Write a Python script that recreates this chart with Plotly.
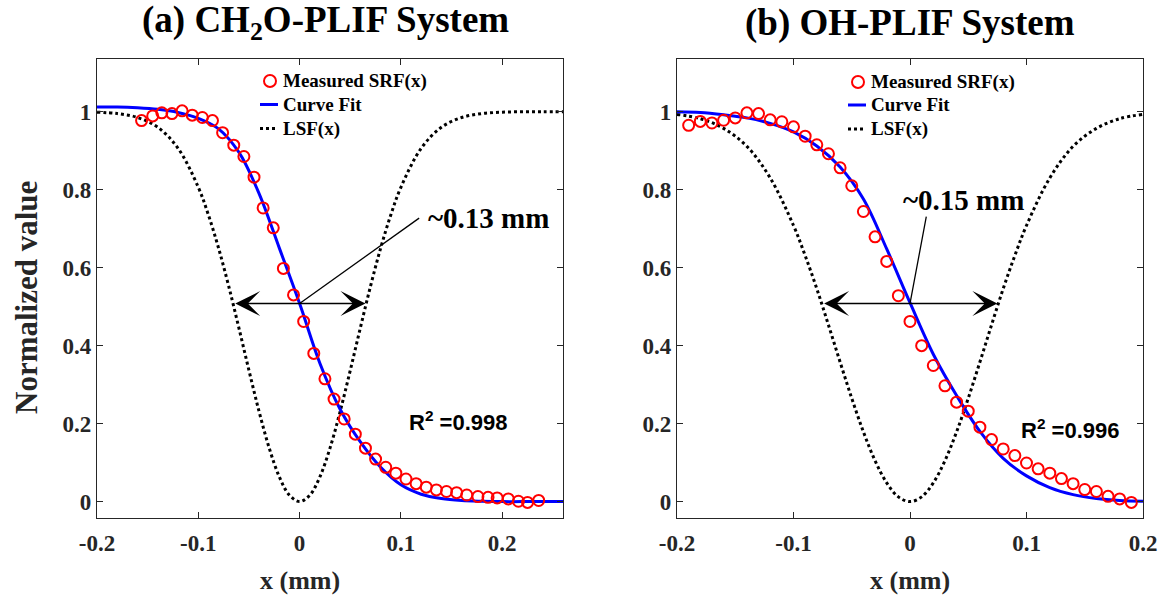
import plotly.graph_objects as go

# ---------------- (a) CH2O-PLIF system ----------------
ch2o_x = [-0.156, -0.145, -0.136, -0.126, -0.116, -0.106, -0.096, -0.086, -0.076, -0.065,
          -0.055, -0.045, -0.036, -0.026, -0.016, -0.006, 0.004, 0.014, 0.025, 0.034,
          0.044, 0.055, 0.065, 0.075, 0.085, 0.095, 0.105, 0.115, 0.125, 0.135,
          0.145, 0.155, 0.165, 0.176, 0.186, 0.195, 0.206, 0.216, 0.225, 0.236]
ch2o_srf = [0.977, 0.989, 0.997, 0.995, 1.002, 0.991, 0.985, 0.977, 0.946, 0.914,
            0.885, 0.832, 0.753, 0.702, 0.598, 0.530, 0.462, 0.380, 0.315, 0.263,
            0.212, 0.173, 0.137, 0.109, 0.088, 0.073, 0.058, 0.046, 0.037, 0.030,
            0.026, 0.023, 0.017, 0.013, 0.011, 0.0095, 0.007, 0.001, -0.002, 0.003]

ch2o_fit_x = [-0.20, -0.18, -0.16, -0.14, -0.12, -0.10, -0.08, -0.06, -0.04, -0.02,
              0.00, 0.02, 0.04, 0.06, 0.08, 0.10, 0.12, 0.14, 0.16, 0.18,
              0.20, 0.22, 0.24, 0.26]
ch2o_fit = [1.012, 1.012, 1.010, 1.006, 0.998, 0.983, 0.956, 0.896, 0.790, 0.650,
            0.508, 0.355, 0.237, 0.153, 0.088, 0.043, 0.019, 0.008, 0.003, 0.001,
            0.000, 0.000, 0.000, 0.000]

ch2o_lsf_x = [-0.20, -0.18, -0.16, -0.14, -0.12, -0.10, -0.09, -0.08, -0.07, -0.06,
              -0.05, -0.04, -0.03, -0.02, -0.01, 0.00, 0.01, 0.02, 0.03, 0.04,
              0.05, 0.06, 0.07, 0.08, 0.09, 0.10, 0.12, 0.14, 0.16, 0.18,
              0.20, 0.22, 0.24, 0.26]
ch2o_lsf = [0.9986, 0.995, 0.985, 0.960, 0.906, 0.806, 0.735, 0.650, 0.5525, 0.446,
            0.3365, 0.231, 0.1373, 0.0635, 0.0163, 0.0, 0.0163, 0.0635, 0.1373, 0.231,
            0.3365, 0.446, 0.5525, 0.650, 0.735, 0.806, 0.906, 0.960, 0.985, 0.995,
            0.9986, 0.9997, 1.0, 1.0]

ch2o_fwhm = 0.13
ch2o_r2 = 0.998

# ---------------- (b) OH-PLIF system ----------------
oh_x = [-0.19, -0.18, -0.17, -0.16, -0.15, -0.14, -0.13, -0.12, -0.11, -0.10,
        -0.09, -0.08, -0.07, -0.06, -0.05, -0.04, -0.03, -0.02, -0.01, 0.00,
        0.01, 0.02, 0.03, 0.04, 0.05, 0.06, 0.07, 0.08, 0.09, 0.10,
        0.11, 0.12, 0.13, 0.14, 0.15, 0.16, 0.17, 0.18, 0.19]
oh_srf = [0.965, 0.975, 0.971, 0.978, 0.984, 0.997, 0.995, 0.979, 0.974, 0.961,
          0.937, 0.915, 0.892, 0.856, 0.810, 0.744, 0.679, 0.616, 0.528, 0.462,
          0.400, 0.349, 0.297, 0.255, 0.232, 0.191, 0.159, 0.135, 0.118, 0.099,
          0.084, 0.073, 0.059, 0.046, 0.031, 0.026, 0.0136, 0.007, -0.002]

oh_fit_x = [-0.20, -0.18, -0.16, -0.14, -0.12, -0.10, -0.08, -0.06, -0.04, -0.02,
            0.00, 0.02, 0.04, 0.06, 0.08, 0.10, 0.12, 0.14, 0.16, 0.18, 0.20]
oh_fit = [1.000, 0.998, 0.992, 0.984, 0.970, 0.948, 0.912, 0.858, 0.776, 0.648,
          0.510, 0.378, 0.272, 0.180, 0.111, 0.066, 0.036, 0.018, 0.008, 0.003, 0.001]

oh_lsf_x = [-0.20, -0.18, -0.16, -0.14, -0.12, -0.10, -0.09, -0.08, -0.07, -0.06,
            -0.05, -0.04, -0.03, -0.02, -0.01, 0.00, 0.01, 0.02, 0.03, 0.04,
            0.05, 0.06, 0.07, 0.08, 0.09, 0.10, 0.12, 0.14, 0.16, 0.18, 0.20]
oh_lsf = [0.993, 0.982, 0.957, 0.911, 0.830, 0.708, 0.631, 0.546, 0.453, 0.358,
          0.265, 0.179, 0.105, 0.0481, 0.0122, 0.0, 0.0122, 0.0481, 0.105, 0.179,
          0.265, 0.358, 0.453, 0.546, 0.631, 0.708, 0.830, 0.911, 0.957, 0.982, 0.993]

oh_fwhm = 0.15
oh_r2 = 0.996

half_level = 0.508

y_ticks = [0, 0.2, 0.4, 0.6, 0.8, 1]
y_tick_text = ["0", "0.2", "0.4", "0.6", "0.8", "1"]
x_ticks = [-0.2, -0.1, 0, 0.1, 0.2]
x_tick_text = ["-0.2", "-0.1", "0", "0.1", "0.2"]

W, H = 1171, 599
SERIF = "Liberation Serif"
SANS = "Liberation Sans"
AXIS_COLOR = "#262626"


def px(x):
    return x / W


def py(y):
    return (H - y) / H


fig = go.Figure()

panels = [
    ("x", "y", ch2o_x, ch2o_srf, ch2o_fit_x, ch2o_fit, ch2o_lsf_x, ch2o_lsf),
    ("x2", "y2", oh_x, oh_srf, oh_fit_x, oh_fit, oh_lsf_x, oh_lsf),
]
for xa, ya, mx, my, fx, fy, lx, ly in panels:
    fig.add_trace(go.Scatter(
        x=lx, y=ly, mode="lines", xaxis=xa, yaxis=ya, showlegend=False,
        line=dict(color="black", width=3, dash="dot", shape="spline", smoothing=1.0),
        name="LSF(x)"))
    fig.add_trace(go.Scatter(
        x=fx, y=fy, mode="lines", xaxis=xa, yaxis=ya, showlegend=False,
        line=dict(color="#0000ff", width=3, shape="spline", smoothing=1.0),
        name="Curve Fit"))
    fig.add_trace(go.Scatter(
        x=mx, y=my, mode="markers", xaxis=xa, yaxis=ya, showlegend=False,
        marker=dict(symbol="circle-open", size=11, color="#ff0000",
                    line=dict(color="#ff0000", width=2)),
        name="Measured SRF(x)"))

axis_common = dict(
    showline=True, linecolor=AXIS_COLOR, linewidth=1.3, mirror="ticks",
    ticks="inside", ticklen=6, tickwidth=1.3, tickcolor=AXIS_COLOR,
    showgrid=False, zeroline=False, automargin=False,
    tickfont=dict(family=SERIF, size=23, color=AXIS_COLOR, weight="bold"),
)
xdom1 = [px(97), px(563)]
xdom2 = [px(677), px(1143)]
ydom = [py(518), py(59)]
y_range = [-0.042, 1.135]

fig.update_layout(
    width=W, height=H, margin=dict(l=0, r=0, t=0, b=0, autoexpand=False),
    plot_bgcolor="white", paper_bgcolor="white",
    xaxis=dict(domain=xdom1, range=[-0.2, 0.26], tickvals=x_ticks, ticktext=x_tick_text,
               anchor="y", ticklabelstandoff=4, **axis_common),
    yaxis=dict(domain=ydom, range=y_range, tickvals=y_ticks, ticktext=y_tick_text,
               anchor="x", **axis_common),
    xaxis2=dict(domain=xdom2, range=[-0.2, 0.2], tickvals=x_ticks, ticktext=x_tick_text,
                anchor="y2", ticklabelstandoff=4, **axis_common),
    yaxis2=dict(domain=ydom, range=y_range, tickvals=y_ticks, ticktext=y_tick_text,
                anchor="x2", **axis_common),
)

annotations = []
shapes = []


def label(text, x, y, size, family=SERIF, color="black", **kw):
    opts = dict(text=text, x=x, y=y, xref="paper", yref="paper", showarrow=False,
                xanchor="center", yanchor="middle",
                font=dict(family=family, size=size, color=color, weight="bold"))
    opts.update(kw)
    return opts


# Panel titles
annotations.append(label("(a) CH<sub>2</sub>O-PLIF System", px(325), py(23), 37))
annotations.append(label("(b) OH-PLIF System", px(910), py(23), 37))

# Axis titles
annotations.append(label("Normalized value", px(26), py(298), 31, color=AXIS_COLOR,
                         textangle=-90))
for cx in (300, 910):
    annotations.append(label("x (mm)", px(cx), py(580), 26, color=AXIS_COLOR))

# FWHM double arrows, leader lines, width labels and R^2 labels
fwhm_specs = [
    ("x", "y", ch2o_fwhm, (0.118, 0.727), (0.1245, 0.728), ch2o_r2, (0.156, 0.206)),
    ("x2", "y2", oh_fwhm, (0.014, 0.731), (-0.008, 0.773), oh_r2, (0.137, 0.185)),
]
for xa, ya, fwhm, lead_end, lab_pos, r2, r2_pos in fwhm_specs:
    annotations.append(dict(
        x=fwhm / 2, y=half_level, ax=-fwhm / 2, ay=half_level,
        xref=xa, yref=ya, axref=xa, ayref=ya, text="", showarrow=True,
        arrowhead=3, startarrowhead=3, arrowside="end+start",
        arrowsize=3.2, startarrowsize=3.2, arrowwidth=1.3, arrowcolor="black"))
    shapes.append(dict(type="line", xref=xa, yref=ya, x0=0, y0=half_level,
                       x1=lead_end[0], y1=lead_end[1],
                       line=dict(color="black", width=1.3)))
    annotations.append(dict(
        text=f"~{fwhm:.2f} mm", x=lab_pos[0], y=lab_pos[1], xref=xa, yref=ya,
        xanchor="left", yanchor="middle", showarrow=False,
        font=dict(family=SERIF, size=29, color="black", weight="bold")))
    annotations.append(dict(
        text=f"R<sup>2</sup> ={r2:.3f}",
        x=r2_pos[0], y=r2_pos[1], xref=xa, yref=ya, showarrow=False,
        xanchor="center", yanchor="middle",
        font=dict(family=SANS, size=22, color="black", weight="bold")))

# Legends drawn as key symbols plus labels
legend_labels = ["Measured SRF(x)", "Curve Fit", "LSF(x)"]
for mk_x, txt_x, rows in ((270, 281, (81, 104.5, 128.5)), (858, 869, (82, 105, 129))):
    r = 6
    shapes.append(dict(type="circle", xref="paper", yref="paper",
                       x0=px(mk_x - r), x1=px(mk_x + r), y0=py(rows[0] + r), y1=py(rows[0] - r),
                       line=dict(color="#ff0000", width=2)))
    shapes.append(dict(type="line", xref="paper", yref="paper",
                       x0=px(mk_x - 10), x1=px(mk_x + 8), y0=py(rows[1]), y1=py(rows[1]),
                       line=dict(color="#0000ff", width=3)))
    shapes.append(dict(type="line", xref="paper", yref="paper",
                       x0=px(mk_x - 10), x1=px(mk_x + 8), y0=py(rows[2]), y1=py(rows[2]),
                       line=dict(color="black", width=3, dash="dot")))
    for text, ry in zip(legend_labels, rows):
        annotations.append(label(text, px(txt_x), py(ry), 19, xanchor="left"))

fig.update_layout(annotations=annotations, shapes=shapes)

fig.write_html("out.html")
